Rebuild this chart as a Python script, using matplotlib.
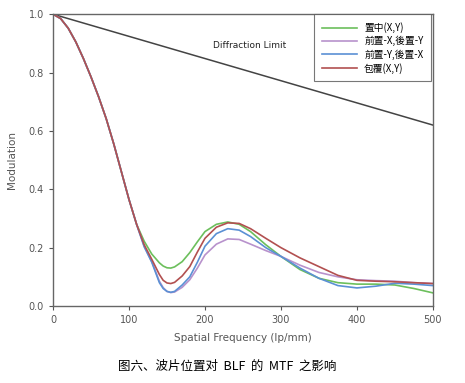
import matplotlib
matplotlib.use("Agg")
import matplotlib.pyplot as plt

plt.rcParams['font.family'] = ['DejaVu Sans']

freq_early = [0, 10, 20, 30, 40, 50, 60, 70, 80, 90, 100, 110]
mtf_early = [1.0, 0.985, 0.952, 0.905, 0.848, 0.785, 0.717, 0.642, 0.555, 0.46, 0.365, 0.28]

freq_late = [120, 130, 140, 145, 150, 155, 160, 170, 180, 190, 200, 215, 230, 245, 260, 280, 300, 325, 350, 375, 400, 425, 450, 475, 500]
green = [0.222, 0.178, 0.148, 0.137, 0.131, 0.13, 0.134, 0.152, 0.183, 0.22, 0.255, 0.28, 0.288, 0.28, 0.255, 0.21, 0.17, 0.125, 0.095, 0.08, 0.075, 0.075, 0.072, 0.06, 0.045]
purple = [0.205, 0.152, 0.085, 0.063, 0.05, 0.046, 0.048, 0.064, 0.09, 0.13, 0.175, 0.212, 0.23, 0.228, 0.212, 0.19, 0.17, 0.14, 0.115, 0.1, 0.09, 0.087, 0.085, 0.08, 0.077]
blue = [0.203, 0.15, 0.08, 0.06, 0.05, 0.047, 0.05, 0.072, 0.1, 0.15, 0.205, 0.248, 0.265, 0.26, 0.238, 0.2, 0.17, 0.13, 0.095, 0.07, 0.062, 0.068, 0.078, 0.075, 0.07]
red = [0.21, 0.16, 0.108, 0.088, 0.079, 0.077, 0.081, 0.103, 0.135, 0.185, 0.232, 0.27, 0.285, 0.283, 0.265, 0.232, 0.2, 0.165, 0.135, 0.105, 0.088, 0.085, 0.083, 0.08, 0.077]

diff_x = [0, 500]
diff_y = [1.0, 0.62]

labels = ["置中(X,Y)", "前置-X,後置-Y", "前置-Y,後置-X", "包覆(X,Y)"]
colors = ["#6cbf5c", "#b892cc", "#5b90d4", "#b25050"]

fig = plt.figure(figsize=(4.65, 3.83), dpi=100)
ax = fig.add_axes([0.114, 0.201, 0.817, 0.762])

ax.plot(diff_x, diff_y, color="#444444", lw=1.1)
for ys, c, lab in zip([green, purple, blue, red], colors, labels):
    ax.plot(freq_early + freq_late, mtf_early + ys, color=c, lw=1.2, label=lab,
            solid_joinstyle='round')

ax.text(210, 0.885, "Diffraction Limit", fontsize=6.5, color="#222222")

ax.set_xlim(0, 500)
ax.set_ylim(0, 1.0)
ax.set_xticks([0, 100, 200, 300, 400, 500])
ax.set_yticks([0.0, 0.2, 0.4, 0.6, 0.8, 1.0])
ax.set_yticklabels(["0.0", "0.2", "0.4", "0.6", "0.8", "1.0"])
ax.tick_params(labelsize=7, colors="#555555", length=3, width=0.8, direction='out')
for s in ax.spines.values():
    s.set_color("#666666")
    s.set_linewidth(1.0)
ax.set_xlabel("Spatial Frequency (lp/mm)", fontsize=7.5, color="#555555", labelpad=6)
ax.set_ylabel("Modulation", fontsize=7.5, color="#555555", labelpad=8)

leg = ax.legend(loc="upper right", bbox_to_anchor=(1.008, 1.016),
                prop={'family': ['Noto Sans CJK TC', 'DejaVu Sans'], 'size': 7},
                frameon=True, fancybox=False, edgecolor="#555555", handlelength=3.6,
                borderpad=0.8, labelspacing=0.3, handletextpad=0.7)
leg.get_frame().set_linewidth(0.8)

fig.text(0.488, 0.035, "图六、波片位置对  BLF  的  MTF  之影响", ha="center", fontsize=9,
         family=['Noto Sans CJK SC', 'DejaVu Sans'])

fig.savefig("out.png", dpi=100)
